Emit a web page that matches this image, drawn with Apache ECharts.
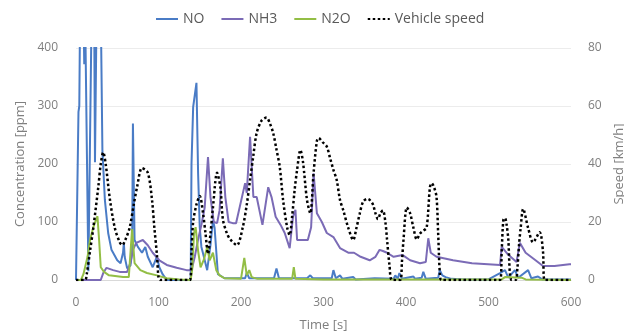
<!DOCTYPE html>
<html>
<head>
<meta charset="utf-8">
<script src="https://cdn.jsdelivr.net/npm/echarts@6/dist/echarts.min.js"></script>
<style>
  html, body { margin: 0; padding: 0; background: #fff; }
  #chart { width: 624px; height: 334px; }
</style>
</head>
<body>
<div id="chart"></div>
<script>
// Emissions downstream of the catalyst and vehicle speed over a 600 s drive cycle.

// NO concentration [ppm]
const noTime = [0, 2, 3, 4, 5, 9, 10, 11, 13, 15, 17, 19, 22, 23, 25, 30, 32, 35, 39, 43, 50, 54, 57, 58, 59, 62, 66, 68, 69, 71, 75, 80, 84, 87, 93, 98, 101, 105, 110, 139, 140, 142, 146, 148, 150, 152, 155, 159, 163, 166, 168, 172, 180, 205, 207, 210, 240, 243, 246, 280, 284, 287, 310, 312, 315, 320, 323, 336, 339, 362, 364, 385, 387, 390, 392, 395, 409, 411, 419, 421, 424, 439, 441, 444, 448, 455, 470, 500, 514, 520, 524, 532, 536, 548, 552, 560, 565, 600];
const noPpm  = [0, 0, 290, 300, 470, 470, 372, 470, 470, 15, 15, 470, 470, 203, 470, 470, 224, 138, 81, 52, 34, 29, 47, 64, 40, 20, 25, 47, 270, 69, 57, 47, 57, 40, 22, 40, 22, 10, 0, 0, 200, 298, 340, 184, 91, 57, 40, 17, 60, 103, 90, 10, 3, 3, 12, 3, 3, 20, 3, 3, 8, 3, 3, 17, 3, 8, 2, 5, 1, 3, 1, 2, 8, 2, 12, 2, 6, 2, 4, 14, 2, 4, 17, 8, 5, 2, 1, 1, 12, 17, 4, 17, 4, 17, 3, 6, 1, 1];

// NH3 concentration [ppm]
const nh3Time = [0, 30, 33, 37, 45, 53, 62, 66, 69, 73, 81, 87, 93, 101, 110, 122, 134, 140, 144, 148, 152, 156, 160, 163, 167, 171, 174, 178, 181, 185, 190, 194, 205, 207, 211, 215, 219, 226, 233, 237, 242, 248, 253, 259, 263, 266, 268, 274, 281, 285, 288, 292, 298, 304, 312, 320, 330, 337, 345, 356, 363, 368, 372, 377, 385, 396, 405, 417, 424, 427, 430, 437, 457, 480, 514, 516, 523, 534, 538, 545, 557, 566, 580, 598, 600];
const nh3Ppm  = [0, 0, 12, 21, 17, 14, 14, 30, 52, 64, 69, 60, 47, 34, 26, 21, 17, 17, 40, 70, 95, 125, 212, 143, 100, 98, 120, 210, 143, 100, 98, 98, 167, 150, 247, 143, 143, 95, 160, 143, 109, 95, 81, 55, 109, 121, 69, 69, 69, 91, 184, 115, 100, 81, 74, 55, 47, 47, 40, 34, 40, 52, 50, 47, 40, 43, 34, 29, 31, 72, 47, 40, 34, 29, 26, 57, 45, 31, 64, 47, 34, 24, 24, 27, 27];

// N2O concentration [ppm]
const n2oTime = [0, 6, 9, 14, 17, 21, 26, 28, 30, 34, 40, 57, 64, 68, 71, 78, 86, 98, 110, 125, 139, 141, 143, 145, 148, 151, 155, 159, 162, 166, 170, 174, 180, 200, 204, 207, 210, 213, 220, 262, 264, 266, 300, 516, 520, 540, 545, 600];
const n2oPpm  = [0, 0, 10, 40, 69, 91, 110, 69, 22, 14, 8, 5, 5, 88, 29, 17, 12, 8, 3, 1, 0, 20, 80, 91, 50, 22, 35, 57, 34, 47, 17, 8, 3, 2, 38, 8, 17, 5, 2, 2, 22, 2, 1, 1, 5, 4, 1, 0];

// Vehicle speed [km/h]
const speedTime = [0, 11, 13, 17, 21, 27, 30, 33, 36, 41, 47, 53, 56, 60, 65, 70, 74, 80, 87, 92, 95, 98, 100, 102, 138, 140, 142, 146, 150, 154, 157, 160, 163, 166, 171, 175, 178, 183, 187, 195, 202, 207, 211, 215, 219, 225, 231, 235, 239, 243, 247, 251, 256, 259, 262, 265, 268, 272, 275, 280, 284, 288, 292, 294, 299, 304, 308, 312, 316, 320, 324, 330, 336, 340, 344, 348, 353, 356, 360, 363, 366, 369, 372, 375, 377, 380, 383, 393, 395, 397, 401, 405, 409, 413, 417, 421, 425, 429, 431, 434, 437, 439, 441, 443, 514, 516, 518, 520, 522, 524, 526, 528, 533, 535, 537, 539, 542, 548, 554, 562, 566, 568, 600];
const speedKmh  = [0, 0, 2, 10, 18, 32, 40, 44, 40, 28, 18, 13, 12, 14, 18, 26, 32, 38.6, 37, 28, 18, 9, 1, 0, 0, 10, 20, 26, 29, 23, 16, 9, 16, 25, 37, 32, 21, 16, 14, 12, 18, 26, 34.5, 43, 50.7, 55, 56, 54, 50.7, 45, 39, 27.6, 18, 15.5, 22, 31, 38, 44.8, 41, 27.6, 23, 37, 48, 49, 47.5, 46, 42, 38, 34.5, 27.6, 24, 18, 13.8, 18, 23, 27, 28, 27.6, 26, 23, 21, 23, 24, 20, 14, 5, 0, 0, 6, 14, 25, 23, 18, 14, 16, 17, 18, 32, 33.4, 32, 28.6, 16, 2.4, 0, 0, 10, 20.7, 21.4, 19, 14, 2, 0, 0, 4, 12, 18, 24.5, 18, 13, 16.5, 10, 0, 0];

// Axis ticks
const timeTicks = [0, 100, 200, 300, 400, 500, 600];
const concTicks = [0, 100, 200, 300, 400];
const speedTicks = [0, 20, 40, 60, 80];

const pairs = (xs, ys) => xs.map((x, i) => [x, ys[i]]);

const FONT = 'Open Sans';
const TICK_COLOR = '#7f7f7f';
const NAME_COLOR = '#7f7f7f';

const chart = echarts.init(document.getElementById('chart'), null, { renderer: 'canvas' });

chart.setOption({
  animation: false,
  backgroundColor: '#ffffff',
  textStyle: { fontFamily: FONT },
  legend: {
    top: 7,
    left: 150,
    itemWidth: 22,
    itemHeight: 10,
    itemGap: 16,
    itemStyle: { opacity: 0 },
    textStyle: { color: '#595959', fontSize: 14, fontFamily: FONT },
    data: ['NO', 'NH3', 'N2O', 'Vehicle speed']
  },
  grid: { left: 76, right: 53, top: 48, bottom: 54, containLabel: false, outerBoundsMode: 'none' },
  xAxis: {
    type: 'value',
    min: timeTicks[0],
    max: timeTicks[timeTicks.length - 1],
    interval: timeTicks[1] - timeTicks[0],
    name: 'Time [s]',
    nameLocation: 'middle',
    nameGap: 39,
    nameTextStyle: { color: NAME_COLOR, fontSize: 13 },
    axisLine: { show: true, lineStyle: { color: '#d9d9d9' } },
    axisTick: { show: false },
    splitLine: { show: false },
    axisLabel: { color: TICK_COLOR, fontSize: 12, margin: 17 }
  },
  yAxis: [
    {
      type: 'value',
      min: concTicks[0],
      max: concTicks[concTicks.length - 1],
      interval: concTicks[1] - concTicks[0],
      name: 'Concentration [ppm]',
      nameLocation: 'middle',
      nameRotate: 90,
      nameGap: 46,
      nameTextStyle: { color: NAME_COLOR, fontSize: 13 },
      axisLine: { show: false },
      axisTick: { show: false },
      splitLine: { show: true, lineStyle: { color: '#ececec', width: 1 } },
      axisLabel: { color: TICK_COLOR, fontSize: 12, margin: 18 }
    },
    {
      type: 'value',
      min: speedTicks[0],
      max: speedTicks[speedTicks.length - 1],
      interval: speedTicks[1] - speedTicks[0],
      name: 'Speed [km/h]',
      nameLocation: 'middle',
      nameRotate: 90,
      nameGap: 39,
      nameTextStyle: { color: NAME_COLOR, fontSize: 13 },
      axisLine: { show: false },
      axisTick: { show: false },
      splitLine: { show: false },
      axisLabel: { color: TICK_COLOR, fontSize: 12, margin: 17 }
    }
  ],
  series: [
    {
      name: 'NO', type: 'line', yAxisIndex: 0, symbol: 'none', clip: true,
      data: pairs(noTime, noPpm),
      lineStyle: { color: '#4a7cc6', width: 2 }, itemStyle: { color: '#4a7cc6' }
    },
    {
      name: 'NH3', type: 'line', yAxisIndex: 0, symbol: 'none', clip: true,
      data: pairs(nh3Time, nh3Ppm),
      lineStyle: { color: '#7b6bb6', width: 2 }, itemStyle: { color: '#7b6bb6' }
    },
    {
      name: 'N2O', type: 'line', yAxisIndex: 0, symbol: 'none', clip: true,
      data: pairs(n2oTime, n2oPpm),
      lineStyle: { color: '#93be45', width: 2 }, itemStyle: { color: '#93be45' }
    },
    {
      name: 'Vehicle speed', type: 'line', yAxisIndex: 1, symbol: 'none', clip: true,
      smooth: 0.3,
      data: pairs(speedTime, speedKmh),
      lineStyle: { color: '#000000', width: 2.5, type: [2.5, 2.5], cap: 'butt' },
      itemStyle: { color: '#000000' },
      z: 5
    }
  ]
});
</script>
</body>
</html>
